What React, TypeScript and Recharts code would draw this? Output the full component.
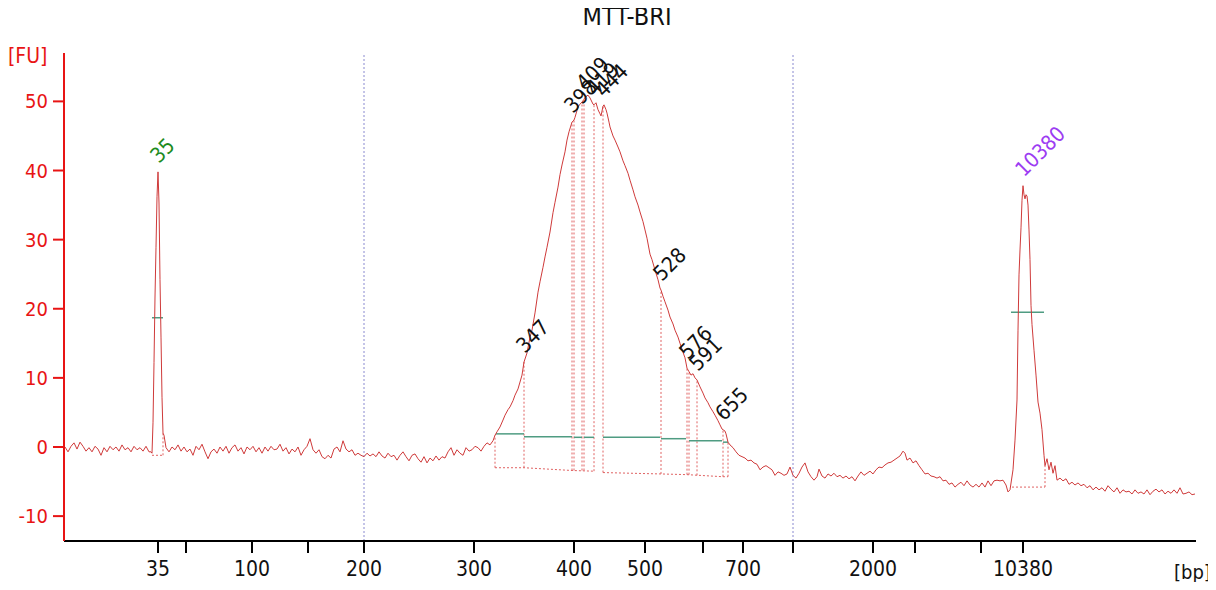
import React from 'react';
import { ComposedChart, Line, XAxis, YAxis, ReferenceLine, Scatter } from 'recharts';

const FONT = "'DejaVu Sans Condensed', 'DejaVu Sans', sans-serif";
const RED = '#e81414';
const TRACE = '#cf3a3a';
const DROP = '#e06262';
const GREEN = '#4f9c82';
const MARK = '#8a8ad0';

const TITLE = 'MTT-BRI';

// x axis: scan position, ladder peaks (bp) at these positions
const ladderPos = [94, 122, 188, 244, 300, 410, 510, 581, 639, 679, 729, 809, 851, 917, 959];
const ladderBp = [35, 50, 100, 150, 200, 300, 400, 500, 600, 700, 1000, 2000, 3000, 7000, 10380];
const ladderShown = [1, 0, 1, 0, 1, 1, 1, 1, 0, 1, 0, 1, 0, 0, 1];
const yTicks = [-10, 0, 10, 20, 30, 40, 50];
const regionMarks = [300, 729];

// electropherogram trace
const traceX = [
  1, 4, 7, 10, 13, 16, 19, 22, 25, 28, 31, 34, 37, 40, 43, 46, 49, 52, 55, 58, 61, 64, 67, 70, 73, 76, 79, 82, 85, 87,
  88, 89, 90, 91, 92, 93, 94, 95, 96, 97, 98, 99, 100, 102, 105, 108, 111, 114, 117, 120, 123, 126, 129, 132, 135, 138,
  141, 144, 147, 150, 153, 156, 159, 162, 165, 168, 171, 174, 177, 180, 183, 186, 189, 192, 195, 198, 201, 204, 207, 210,
  213, 216, 219, 222, 225, 228, 231, 234, 237, 240, 243, 246, 249, 252, 255, 258, 261, 264, 267, 270, 273, 276, 279, 282,
  285, 288, 291, 294, 297, 300, 303, 306, 309, 312, 315, 318, 321, 324, 327, 330, 333, 336, 339, 342, 345, 348, 351, 354,
  357, 360, 363, 366, 369, 372, 375, 378, 381, 384, 387, 390, 393, 396, 399, 402, 405, 408, 411, 414, 417, 420, 423, 426,
  429, 431, 433, 436, 439, 441, 444, 446, 449, 451, 454, 456, 458, 460, 463, 466, 468, 471, 474, 476, 479, 481, 483, 486,
  489, 491, 494, 496, 498, 501, 503, 505, 508, 510, 511, 514, 516, 518, 520, 521, 523, 524, 526, 527, 529, 530, 532, 534,
  536, 537, 539, 540, 542, 543, 545, 546, 549, 551, 554, 556, 559, 561, 564, 566, 569, 571, 574, 576, 579, 581, 583, 586,
  588, 591, 594, 596, 597, 599, 601, 604, 606, 609, 611, 614, 616, 619, 621, 623, 625, 627, 629, 631, 633, 636, 639, 641,
  644, 646, 649, 651, 654, 656, 658, 659, 661, 662, 664, 666, 669, 672, 675, 678, 681, 684, 687, 690, 693, 696, 699, 702,
  705, 708, 711, 714, 717, 720, 723, 726, 729, 732, 735, 738, 741, 744, 747, 750, 753, 755, 758, 761, 764, 767, 770, 773,
  776, 779, 782, 785, 788, 791, 794, 797, 800, 803, 806, 809, 812, 815, 818, 821, 824, 827, 830, 833, 836, 839, 841, 843,
  846, 849, 852, 855, 858, 861, 864, 867, 870, 873, 876, 879, 882, 885, 888, 891, 894, 897, 900, 903, 906, 909, 912, 915,
  918, 921, 924, 927, 930, 933, 936, 939, 942, 944, 946, 949, 951, 953, 954, 955, 956, 957, 958, 959, 960, 961, 962, 963,
  964, 965, 966, 967, 968, 970, 972, 974, 976, 978, 980, 981, 983, 985, 987, 989, 991, 993, 996, 999, 1002, 1005, 1008,
  1011, 1014, 1017, 1020, 1023, 1026, 1029, 1032, 1035, 1038, 1041, 1044, 1047, 1050, 1053, 1056, 1059, 1062, 1065, 1068,
  1071, 1074, 1077, 1080, 1083, 1086, 1089, 1092, 1095, 1098, 1101, 1104, 1107, 1110, 1113, 1116, 1119, 1122, 1125, 1128,
  1131,
];
const traceFU = [
  0, -0.7, 0.1, 0.6, -0.3, 0.7, 0.1, -0.6, -0.1, -0.7, 0.1, -0.3, -1.2, -0.1, -0.7, 0.1, -0.4, 0, -0.6, 0.3, -0.4, -0.1, -0.7, 0.1, -0.4, -0.1, -0.6, 0.1, -0.7, -0.7,
  -0.9, 3.5, 12.2, 21.7, 28.9, 36.2, 39.8, 35.3, 24.2, 15.9, 7.2, 2.0, 1.7, -0.1, -0.7, 0, -0.4, 0.3, -0.6, 0, -0.7, -0.3, -1.2, 0.1, -0.4, 0.4,
  -0.7, -1.7, -0.7, -0.3, -0.9, 0, -0.6, 0.1, -0.9, -0.1, 0.3, -0.6, -0.1, -1.0, 0, -0.4, 0.1, -0.7, -0.1, -0.9, 0, -0.6, 0.1, -0.4,
  -0.3, 0.4, -0.6, -0.1, -1.0, -0.3, -0.7, 0, -1.2, -0.4, 0.1, 1.2, -0.4, -0.9, -0.4, -1.4, -1.7, -1.2, -1.6, -0.3, 0, -0.7, 0.9, -0.3,
  -0.7, -0.4, -1.2, -0.9, -1.2, -1.4, -0.9, -1.3, -1.0, -1.4, -0.7, -1.3, -1.6, -0.9, -1.4, -1.2, -1.9, -1.2, -0.7, -1.4, -2.0, -1.2, -1.0, -1.7,
  -2.2, -1.4, -2.3, -1.6, -2.0, -1.3, -1.9, -1.4, -1.6, -0.7, -0.1, -1.2, -0.4, -0.9, -1.2, -0.1, -0.6, -0.4, 0.1, -0.1, -0.6, 0.1, 0.6, 0.3,
  0.9, 1.7, 2.2, 2.9, 3.9, 4.6, 5.4, 5.8, 6.7, 7.5, 8.4, 9.4, 10.4, 12.3, 13.6, 15.9, 16.9, 19.4, 22.4, 23.9, 26.0, 27.5, 28.9, 31.1,
  33.9, 35.4, 37.6, 39.4, 40.8, 42.7, 44.4, 45.6, 47.0, 47.3, 47.7, 49.2, 49.6, 49.9, 50.3, 50.6, 50.8, 50.9, 50.5, 50.2, 49.6, 49.5, 49.8, 48.8,
  48.2, 47.9, 49.3, 49.5, 48.8, 48.3, 47.0, 46.3, 45.0, 44.4, 43.4, 42.7, 41.4, 40.7, 39.6, 38.6, 37.2, 36.2, 35.0, 34.0, 32.6, 31.4, 30.2, 27.9,
  27.1, 25.6, 24.2, 23.0, 22.7, 21.8, 21.0, 19.8, 18.8, 17.8, 16.9, 15.9, 15.0, 13.7, 12.9, 11.4, 10.9, 10.4, 10.6, 10.0, 9.7, 8.7, 7.8, 7.1,
  6.4, 5.8, 5.1, 4.6, 3.8, 3.2, 2.6, 2.5, 2.3, 1.9, 0.7, 0.3, -0.1, -0.7, -1.2, -1.4, -1.6, -2.0, -1.9, -2.3, -2.5, -3.3, -2.9, -2.7,
  -3.0, -3.3, -4.1, -3.6, -3.8, -4.1, -3.9, -2.9, -4.1, -4.5, -3.8, -2.9, -2.3, -3.6, -4.3, -4.8, -4.3, -3.2, -4.2, -4.5, -3.9, -4.2, -3.8, -4.3,
  -4.1, -4.5, -4.2, -4.6, -4.3, -4.9, -4.2, -3.6, -4.1, -3.8, -3.5, -3.9, -3.3, -2.9, -3.0, -2.6, -2.3, -2.2, -1.9, -1.6, -1.3, -0.6, -0.9, -1.9,
  -1.6, -2.3, -2.0, -2.7, -3.3, -3.9, -3.8, -4.2, -4.3, -4.5, -4.3, -4.9, -4.8, -5.4, -5.2, -5.8, -5.4, -5.1, -5.6, -4.9, -5.5, -5.8, -5.4, -5.8,
  -5.2, -5.8, -4.9, -5.6, -4.9, -4.8, -4.9, -4.8, -5.5, -6.5, -6.2, -3.3, 1.0, 6.8, 16.9, 24.9, 28.5, 31.7, 35.7, 37.8, 36.5, 35.9, 36.5, 36.3,
  35.0, 31.4, 27.1, 20.5, 17.7, 14.0, 10.4, 6.5, 4.9, 2.5, -1.2, -2.7, -1.7, -3.3, -2.2, -3.8, -2.7, -4.8, -4.5, -4.9, -4.6, -5.4, -5.1,
  -5.5, -5.2, -5.6, -5.4, -5.9, -5.6, -6.2, -5.8, -6.2, -5.9, -6.4, -5.6, -6.1, -6.5, -5.9, -6.7, -6.2, -6.5, -6.4, -6.8,
  -6.2, -6.7, -6.5, -6.8, -6.2, -6.9, -6.4, -6.1, -6.5, -6.2, -6.8, -6.4, -6.7, -6.2, -6.7, -5.9, -6.8, -6.7, -6.5, -6.9,
  -6.8,
];

// called peaks
const peakX = [94, 460, 508, 520, 530, 539, 597, 623, 633, 659, 959];
const peakFU = [39.8, 12.3, 47.0, 50.3, 49.5, 49.3, 22.7, 11.4, 9.7, 2.5, 37.8];
const peakLabel = ['35', '347', '398', '409', '419', '444', '528', '576', '591', '655', '10380'];
const peakColor = ['#1e8c1e', '#111111', '#111111', '#111111', '#111111', '#111111', '#111111', '#111111', '#111111', '#111111', '#9c3cf2'];

// peak width markers (green)
const widthX1 = [88, 947, 432, 460, 510, 520, 539, 597, 625, 659];
const widthX2 = [99, 980, 460, 508, 518, 530, 596, 622, 658, 664];
const widthFU = [18.7, 19.5, 1.9, 1.5, 1.4, 1.4, 1.4, 1.2, 0.9, 0.7];

// region borders (dotted)
const dropX = [99, 981, 431, 460, 508, 510, 518, 520, 530, 539, 597, 623, 625, 633, 659, 664];
const dropBottom = [-1.2, -5.8, -3.0, -3.0, -3.4, -3.4, -3.4, -3.4, -3.5, -3.7, -3.9, -4.0, -4.0, -4.1, -4.3, -4.3];
const dropTop = [2.0, -2.7, 1.7, 12.3, 47.0, 47.3, 49.9, 50.3, 49.5, 49.3, 22.7, 11.4, 10.9, 9.7, 2.5, 0.7];

const baseRunA = [[431, -3.0], [460, -3.0], [508, -3.4], [530, -3.5]];
const baseRunB = [[539, -3.7], [597, -3.9], [623, -4.0], [659, -4.3], [664, -4.3]];
const baseRun35 = [[88, -1.2], [99, -1.2]];
const baseRunUpper = [[948, -5.8], [981, -5.8]];
const baseRuns = [baseRunA, baseRunB, baseRun35, baseRunUpper];

const traceData = traceX.map((x, i) => ({ x, y: traceFU[i] }));
const peakData = peakX.map((x, i) => ({ x, y: peakFU[i], label: peakLabel[i], color: peakColor[i] }));

const tickLabel = (v: number) => {
  const i = ladderPos.indexOf(v);
  return i >= 0 && ladderShown[i] ? String(ladderBp[i]) : '';
};

const PeakLabel = (props: any) => {
  const { cx, cy, payload } = props;
  if (cx == null || cy == null) return null;
  const ax = cx + 1;
  const ay = cy - 8;
  return (
    <text
      x={ax}
      y={ay}
      transform={`rotate(-45 ${ax} ${ay})`}
      fill={payload.color}
      fontSize={21}
      fontFamily={FONT}
    >
      {payload.label}
    </text>
  );
};

export default function App() {
  return (
    <div style={{ position: 'relative', width: 1200, height: 574 }}>
      <ComposedChart width={1200} height={574} margin={{ top: 45, right: 12, left: 0, bottom: 0 }}>
        <XAxis
          type="number"
          dataKey="x"
          domain={[0, 1132]}
          ticks={ladderPos}
          tickFormatter={tickLabel}
          interval={0}
          height={41}
          tickSize={12}
          tickMargin={8}
          axisLine={{ stroke: '#000', strokeWidth: 2 }}
          tickLine={{ stroke: '#000', strokeWidth: 2 }}
          tick={{ fill: '#111', fontSize: 21, fontFamily: FONT }}
        />
        <YAxis
          type="number"
          domain={[-13.6, 57]}
          ticks={yTicks}
          interval={0}
          width={56}
          tickSize={11}
          tickMargin={5}
          axisLine={{ stroke: RED, strokeWidth: 2 }}
          tickLine={{ stroke: RED, strokeWidth: 2 }}
          tick={{ fill: RED, fontSize: 20, fontFamily: FONT }}
        />
        {regionMarks.map((x) => (
          <ReferenceLine key={'m' + x} x={x} stroke={MARK} strokeWidth={1} strokeDasharray="2 2" />
        ))}
        {dropX.map((x, i) => (
          <ReferenceLine
            key={'d' + i}
            segment={[{ x, y: dropBottom[i] }, { x, y: dropTop[i] }]}
            stroke={DROP}
            strokeWidth={1}
            strokeDasharray="2 2"
          />
        ))}
        {baseRuns.map((run, i) => (
          <Line
            key={'b' + i}
            data={run.map(([x, y]) => ({ x, y }))}
            dataKey="y"
            type="linear"
            stroke={DROP}
            strokeWidth={1}
            strokeDasharray="2 2"
            dot={false}
            isAnimationActive={false}
          />
        ))}
        {widthX1.map((x1, i) => (
          <ReferenceLine
            key={'w' + i}
            segment={[{ x: x1, y: widthFU[i] }, { x: widthX2[i], y: widthFU[i] }]}
            stroke={GREEN}
            strokeWidth={1.5}
          />
        ))}
        <Line
          data={traceData}
          dataKey="y"
          type="linear"
          stroke={TRACE}
          strokeWidth={1}
          dot={false}
          isAnimationActive={false}
        />
        <Scatter data={peakData} dataKey="y" shape={PeakLabel} isAnimationActive={false} />
      </ComposedChart>
      <svg
        width={1216}
        height={590}
        style={{ position: 'absolute', left: -8, top: -8, pointerEvents: 'none' }}
      >
        <text x={627} y={25} textAnchor="middle" fontSize={25} fontFamily={FONT} fill="#111">
          {TITLE}
        </text>
        <text x={8} y={63} fontSize={21} fontFamily={FONT} fill={RED}>
          [FU]
        </text>
        <text x={1174} y={579} fontSize={20} fontFamily={FONT} fill="#111">
          [bp]
        </text>
      </svg>
    </div>
  );
}
